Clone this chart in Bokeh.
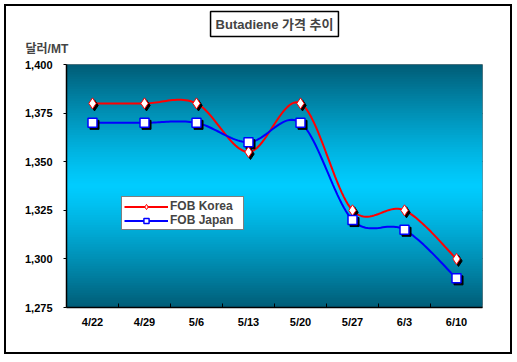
from bokeh.plotting import figure
from bokeh.models import (Range1d, FixedTicker, Title, Legend, LegendItem,
                          NumeralTickFormatter)
from bokeh.embed import file_html
from bokeh.resources import INLINE

# ---- data ----
dates = ["4/22", "4/29", "5/6", "5/13", "5/20", "5/27", "6/3", "6/10"]
fob_korea = [1380, 1380, 1380, 1355, 1380, 1325, 1325, 1300]
fob_japan = [1370, 1370, 1370, 1360, 1370, 1320, 1315, 1290]
y_ticks = [1275, 1300, 1325, 1350, 1375, 1400]

# layout (content box 504x346 inside a 2px CSS border)
FW, FH = 412, 239
BL, BR, BT, BB = 60, 32, 58, 49
YMIN, YMAX = 1275, 1400
N = len(dates)
xs = [i + 0.5 for i in range(N)]

FONT = "Liberation Sans, Noto Sans CJK KR, sans-serif"

p = figure(output_backend="svg", toolbar_location=None,
           width=FW + BL + BR, height=FH + BT + BB,
           min_border_left=BL, min_border_right=BR, min_border_top=BT, min_border_bottom=BB,
           x_range=Range1d(0, N), y_range=Range1d(YMIN, YMAX), title=None)
p.styles = {"margin-left": "4px", "margin-top": "4px",
            "border": "2px solid black", "box-sizing": "content-box"}
p.border_fill_color = "white"
p.outline_line_color = "#808080"

# ---- gradient background (dark teal at edges, cyan at center) ----
NS = 100
dark = (0, 92, 118)
light = (0, 204, 255)
step = (YMAX - YMIN) / NS
bots, tops, cols = [], [], []
for k in range(NS):
    t = (k + 0.5) / NS
    f = abs(t - 0.5) * 2
    f = f ** 1.2
    c = tuple(int(round(light[j] + (dark[j] - light[j]) * f)) for j in range(3))
    bots.append(YMIN + step * k)
    tops.append(min(YMAX, YMIN + step * (k + 2)))
    cols.append("#%02x%02x%02x" % c)
p.quad(left=0, right=N, bottom=bots, top=tops, fill_color=cols, line_color=None)

# ---- grid ----
p.xgrid.visible = False
p.ygrid.ticker = FixedTicker(ticks=y_ticks[1:-1])
p.ygrid.grid_line_color = "black"
p.ygrid.grid_line_width = 1.2
p.ygrid.level = "underlay"

# ---- smoothing (Bezier with Catmull-Rom control points, in pixel space) ----
sx = FW / N
sy = FH / (YMAX - YMIN)

def smooth(vals, steps=24):
    pts = [(xs[i] * sx, vals[i] * sy) for i in range(len(vals))]
    out_x, out_y = [], []
    n = len(pts)
    for i in range(n - 1):
        p0 = pts[i - 1] if i > 0 else pts[i]
        p1 = pts[i]
        p2 = pts[i + 1]
        p3 = pts[i + 2] if i + 2 < n else pts[i + 1]
        c1 = (p1[0] + (p2[0] - p0[0]) / 6, p1[1] + (p2[1] - p0[1]) / 6)
        c2 = (p2[0] - (p3[0] - p1[0]) / 6, p2[1] - (p3[1] - p1[1]) / 6)
        for s in range(steps + (1 if i == n - 2 else 0)):
            t = s / steps
            a = (1 - t) ** 3
            b = 3 * (1 - t) ** 2 * t
            c = 3 * (1 - t) * t ** 2
            d = t ** 3
            X = a * p1[0] + b * c1[0] + c * c2[0] + d * p2[0]
            Y = a * p1[1] + b * c1[1] + c * c2[1] + d * p2[1]
            out_x.append(X / sx)
            out_y.append(Y / sy)
    return out_x, out_y

kx, ky = smooth(fob_korea)
jx, jy = smooth(fob_japan)

lk = p.line(kx, ky, line_color="#ff0000", line_width=2)
lj = p.line(jx, jy, line_color="#0000ff", line_width=2)

# marker shadows (2px right, 2px down)
dx = 2 / sx
dy = 2 / sy
p.scatter([x + dx for x in xs], [v - dy for v in fob_korea], marker="diamond",
          size=11, fill_color="black", line_color="black")
p.scatter([x + dx for x in xs], [v - dy for v in fob_japan], marker="square",
          size=9, fill_color="black", line_color="black")
mk = p.scatter(xs, fob_korea, marker="diamond", size=11, fill_color="white",
               line_color="#ff0000", line_width=1)
mj = p.scatter(xs, fob_japan, marker="square", size=9, fill_color="white",
               line_color="#0000ff", line_width=1.5)

# ---- axes ----
p.xaxis.ticker = FixedTicker(ticks=xs, minor_ticks=list(range(1, N)))
p.xaxis.major_label_overrides = {x: d for x, d in zip(xs, dates)}
p.xaxis.major_tick_in = 0
p.xaxis.major_tick_out = 0
p.xaxis.minor_tick_in = 4
p.xaxis.minor_tick_out = 0
p.xaxis.minor_tick_line_color = "black"
p.xaxis.major_label_standoff = 8

p.yaxis.ticker = FixedTicker(ticks=y_ticks)
p.yaxis.formatter = NumeralTickFormatter(format="0,0")
p.yaxis.major_tick_out = 3
p.yaxis.major_tick_in = 0
p.yaxis.minor_tick_line_color = None
p.yaxis.major_label_standoff = 11

for ax in (p.xaxis[0], p.yaxis[0]):
    ax.axis_line_color = "black"
    ax.axis_line_width = 1.5
    ax.major_tick_line_color = "black"
    ax.major_label_text_font = FONT
    ax.major_label_text_font_style = "bold"
    ax.major_label_text_font_size = "11px"
    ax.major_label_text_color = "black"

# ---- legend ----
legend = Legend(items=[LegendItem(label="FOB Korea", renderers=[lk, mk]),
                       LegendItem(label="FOB Japan", renderers=[lj, mj])],
                location=(55, 77), orientation="vertical",
                label_text_font=FONT, label_text_font_style="bold",
                label_text_font_size="12px", label_height=13, glyph_height=13,
                glyph_width=44, label_standoff=2, label_width=71, spacing=0,
                padding=2, margin=0,
                border_line_color="black", border_line_width=1.5,
                background_fill_color="white", background_fill_alpha=1)
p.add_layout(legend, "center")

# ---- unit label (next to the frame) and main title box (above it) ----
unit_title = Title(text="달러/MT", align="left", offset=-41, text_font=FONT,
                   text_font_style="bold", text_font_size="12px", standoff=18)
main_title = Title(text="Butadiene 가격 추이", align="center", text_font=FONT,
                   text_font_style="bold", text_font_size="13px",
                   background_fill_color="white", border_line_color="black",
                   border_line_width=1.5, padding=5, standoff=-12, offset=0)
p.add_layout(unit_title, "above")
p.add_layout(main_title, "above")

open("out.html", "w").write(file_html(p, INLINE))
